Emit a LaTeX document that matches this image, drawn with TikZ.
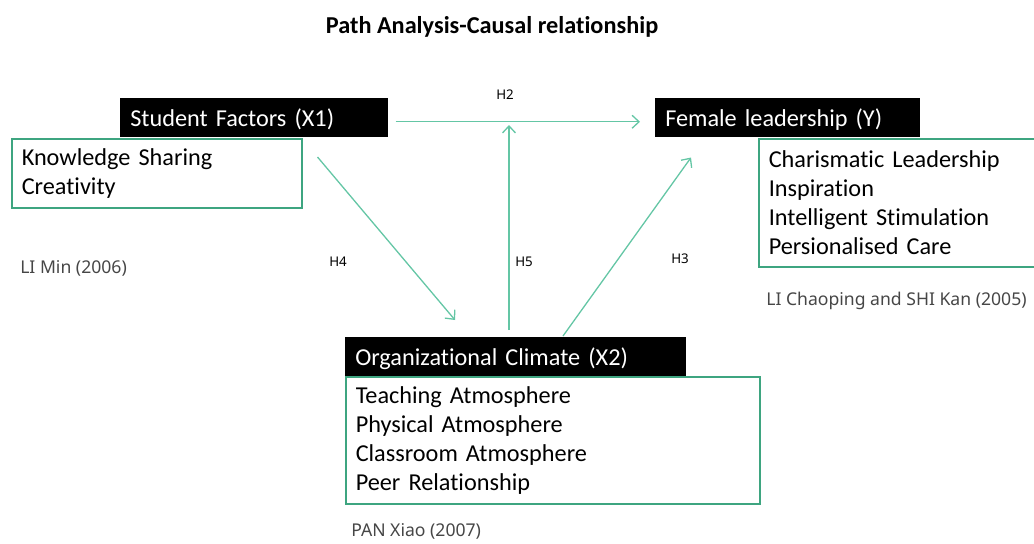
\documentclass[tikz,border=0pt]{standalone}
\usepackage{fontspec}
\setmainfont{Carlito}[Ligatures=NoCommon]
\newfontfamily\lblfont{Noto Sans}
\newfontfamily\citefont{Noto Sans}
\usetikzlibrary{arrows.meta,calc}
\definecolor{arrc}{RGB}{100,198,165}
\definecolor{boxc}{RGB}{62,165,128}
\definecolor{citec}{RGB}{70,70,70}
\def\px{0.75pt}
\tikzset{
  x=0.75pt, y=-0.75pt,
  hdr/.style={fill=black, text=white, anchor=north west, align=left,
    font=\fontsize{18.2}{21.8}\selectfont, inner xsep=10*\px, inner ysep=0pt,
    minimum height=39*\px, text depth=0.1ex},
  items/.style={draw=boxc, line width=1.5*\px, anchor=north west, align=left,
    font=\fontsize{18.2}{21.8}\selectfont, inner xsep=10*\px, inner ysep=0pt},
  arr/.style={draw=arrc, line width=1.3*\px, -{Straight Barb[length=7*\px,width=13*\px]}},
  hlabel/.style={font=\lblfont\fontsize{10}{12}\selectfont, text=black},
  cite/.style={font=\citefont\fontsize{13.2}{15}\selectfont, text=citec, anchor=west, inner sep=0pt},
}
\begin{document}
\begin{tikzpicture}
\useasboundingbox (0,0) rectangle (1034,543);
\node[font=\bfseries\fontsize{18.2}{21}\selectfont] (title) at (492,27) {Path Analysis-Causal relationship};

\node[hdr, text width=248*\px] (sf) at (120,98) {Student Factors (X1)};
\node[items, text width=270*\px, minimum height=69*\px] (kn) at (11,138) {Knowledge Sharing\\Creativity};

\node[hdr, text width=245*\px] (fl) at (655,98) {Female leadership (Y)};
\node[items, text width=276*\px, minimum height=128*\px] (yb) at (758,138) {Charismatic Leadership\\Inspiration\\Intelligent Stimulation\\Persionalised Care};

\node[hdr, text width=321*\px] (oc) at (345,337) {Organizational Climate (X2)};
\node[items, text width=394*\px, minimum height=127*\px] (xb) at (345,376) {Teaching Atmosphere\\Physical Atmosphere\\Classroom Atmosphere\\Peer Relationship};

\node[cite] (c1) at (20,268) {LI Min (2006)};
\node[cite] (c2) at (766,301) {LI Chaoping and SHI Kan (2005)};
\node[cite] (c3) at (351,531) {PAN Xiao (2007)};

\coordinate (j) at (509,125);
\draw[arr] ([shift={(7,4)}]sf.east) -- ([shift={(-15,4)}]fl.west);
\draw[arr] ([shift={(164,-7)}]oc.north west) -- (j);
\draw[arr] ([shift={(15,19)}]kn.north east) -- ([shift={(110,-17)}]oc.north west);
\draw[arr] ([shift={(218,-1)}]oc.north west) -- ([shift={(36,20)}]fl.south west);

\node[hlabel] (h2) at (505,95) {H2};
\node[hlabel] (h4) at (338,262) {H4};
\node[hlabel] (h5) at (524,262) {H5};
\node[hlabel] (h3) at (680,259) {H3};
\end{tikzpicture}
\end{document}
